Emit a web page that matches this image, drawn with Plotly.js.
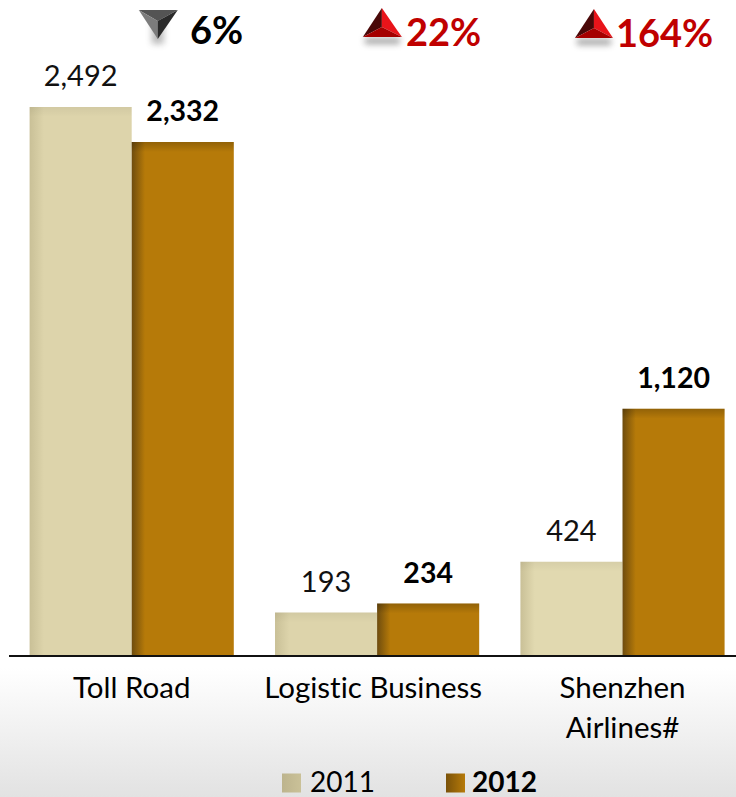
<!DOCTYPE html>
<html>
<head>
<meta charset="utf-8">
<script src="https://cdn.plot.ly/plotly-3.0.1.min.js"></script>
<style>
html,body{margin:0;padding:0;width:736px;height:797px;overflow:hidden;
background:linear-gradient(to bottom,#ffffff 0,#ffffff 668px,#e2e2e2 797px);}
text,tspan{font-variant-ligatures:none !important;font-feature-settings:"liga" 0 !important;}
</style>
</head>
<body>
<div id="chart" style="width:736px;height:797px"></div>
<script>
const categories = ["Toll Road", "Logistic Business", "Shenzhen<br>Airlines#"];
const values2011 = [2492, 193, 424];
const values2012 = [2332, 234, 1120];
const changes = ["6%", "22%", "164%"];
const FONT = "Lato, 'Open Sans', sans-serif";
const W = 736, H = 797, L = 9.3, B = 141.5;
const px = x => ((x - L) / (W - L)).toFixed(5);
const py = y => (1 - y / (H - B)).toFixed(5);
const poly = pts => pts.map((p, i) => (i ? 'L' : 'M') + px(p[0]) + ',' + py(p[1])).join(' ') + ' Z';
const facet = (pts, color) => ({type: 'path', xref: 'paper', yref: 'paper', path: poly(pts), fillcolor: color, line: {width: 0}, layer: 'above'});
const shadow = (x0, y0, x1, y1, op) => ({type: 'rect', xref: 'paper', yref: 'paper', x0: px(x0), x1: px(x1), y0: py(y0), y1: py(y1), fillcolor: '#555', opacity: op, line: {width: 0}, layer: 'above'});

function upMark(ax, ay, lx, rx, by) {
  const c = [ax, ay + 19];
  return [
    shadow(lx + 2, by + 1, rx - 2, by + 7, 0.55),
    facet([[ax, ay], [lx, by], c], '#4a0808'),
    facet([[ax, ay], [rx, by], c], '#e8141a'),
    facet([[lx, by], [rx, by], c], '#a50000')
  ];
}
const shapes = [
  shadow(152, 20, 164, 44, 0.4),
  facet([[139, 10], [178, 10], [158, 21]], '#545454'),
  facet([[139, 10], [158, 39], [158, 21]], '#7c7c7c'),
  facet([[178, 10], [158, 39], [158, 21]], '#2a2a2a'),
  ...upMark(382, 8, 363, 402, 37),
  ...upMark(594, 9, 575, 613, 38)
];
const pct = (i, x, y, color) => ({
  xref: 'paper', yref: 'paper', x: px(x), y: py(y), xanchor: 'center', yanchor: 'middle',
  text: '<b>' + changes[i] + '</b>', showarrow: false,
  font: {family: FONT, size: 38, color}
});

const traces = [
  {type: 'bar', name: '2011', x: categories, y: values2011, marker: {color: ['#DDD4AB', '#DDD4AB', '#E1D9B0'], line: {width: 0}},
   text: values2011, texttemplate: '%{y:,}', textposition: 'outside', cliponaxis: false, constraintext: 'none',
   textfont: {family: FONT, size: 29, color: '#111'}},
  {type: 'bar', name: '<b>2012</b>', x: categories, y: values2012, marker: {color: '#B67A09', line: {width: 0}},
   text: values2012, texttemplate: '<b>%{y:,}</b>', textposition: 'outside', cliponaxis: false, constraintext: 'none',
   textfont: {family: FONT, size: 28.5, color: '#000'}}
];
const layout = {
  width: W, height: H, margin: {l: L, r: 0, t: 0, b: B, pad: 0}, autosize: false,
  paper_bgcolor: 'rgba(0,0,0,0)', plot_bgcolor: 'rgba(0,0,0,0)',
  barmode: 'group', bargap: 0.168, bargroupgap: 0,
  font: {family: FONT, color: '#000'},
  xaxis: {type: 'category', range: [-0.5, 2.4625], showline: true, linecolor: '#111', linewidth: 2,
    showgrid: false, zeroline: false, ticks: 'outside', ticklen: 6, tickcolor: 'rgba(0,0,0,0)',
    tickfont: {family: FONT, size: 29.5, color: '#000'}, tickangle: 0, fixedrange: true},
  yaxis: {range: [0, 2978], visible: false, fixedrange: true},
  legend: {orientation: 'h', x: 0.37, xanchor: 'left', y: -0.2159, yanchor: 'bottom', traceorder: 'normal',
    font: {family: FONT, size: 28, color: '#000'}, bgcolor: 'rgba(0,0,0,0)', itemclick: false, itemdoubleclick: false,
    entrywidth: 130, entrywidthmode: 'pixels'},
  shapes,
  annotations: [pct(0, 217, 29, '#000'), pct(1, 443.5, 31, '#C00000'), pct(2, 665, 32, '#C00000')]
};
Plotly.newPlot('chart', traces, layout, {displayModeBar: false, responsive: false}).then(gd => {
  const NS = 'http://www.w3.org/2000/svg';
  const svg = gd.querySelector('.main-svg');
  const defs = svg.querySelector('defs');
  let uid = 0;
  const grad = (vertical, stops, userBox) => {
    const g = document.createElementNS(NS, 'linearGradient');
    const id = 'bg' + (uid++);
    g.setAttribute('id', id);
    if (userBox) {
      g.setAttribute('gradientUnits', 'userSpaceOnUse');
      g.setAttribute('x1', 0); g.setAttribute('x2', 0);
      g.setAttribute('y1', userBox[0]); g.setAttribute('y2', userBox[1]);
    }
    stops.forEach(s => {
      const st = document.createElementNS(NS, 'stop');
      st.setAttribute('offset', s[0]); st.setAttribute('stop-color', s[1]);
      if (s[2] !== undefined) st.setAttribute('stop-opacity', s[2]);
      g.appendChild(st);
    });
    defs.appendChild(g);
    return 'url(#' + id + ')';
  };
  gd.querySelectorAll('.barlayer .trace').forEach((tr, ti) => {
    tr.querySelectorAll('.point').forEach(pt => {
      const p = pt.querySelector('path');
      const base = p.style.fill;
      const left = ti === 0 ? '#C9C097' : '#6E4C0E';
      const frac = ti === 0 ? 0.14 : 0.13;
      p.style.fill = grad(false, [[0, left], [frac, base], [1, base]]);
      const b = p.getBBox();
      const top = p.cloneNode(true);
      top.style.fill = grad(false, [[0, '#000', ti === 0 ? 0.05 : 0.2], [1, '#000', 0]], [b.y, b.y + 10]);
      p.parentNode.insertBefore(top, p.nextSibling);
      const t = pt.querySelector('text');
      if (t) {
        const tf = t.getAttribute('transform') || '';
        t.setAttribute('transform', 'translate(0,-12) ' + tf);
      }
    });
  });
  gd.querySelectorAll('.xtick text tspan.line').forEach(ts => {
    if (ts.getAttribute('dy') && parseFloat(ts.getAttribute('dy')) !== 0) ts.setAttribute('dy', '40px');
  });
  gd.querySelectorAll('.xtick text').forEach((tk, i) => {
    if (i === 1) tk.setAttribute('transform', 'translate(-4,0) ' + (tk.getAttribute('transform') || ''));
  });
  // legend: swatch and label placement
  const screen = el => el.getBoundingClientRect();
  const swatchX = [282, 446], textX = [310, 472], midY = 783, textMid = 781;
  gd.querySelectorAll('.legend .traces').forEach((tr, i) => {
    const lp = tr.querySelector('.legendpoints path');
    if (lp) {
      lp.setAttribute('d', 'M-9.5,-9.5H9.5V9.5H-9.5Z');
      lp.style.fill = i === 0 ? grad(false, [[0, '#BDB48D'], [1, '#CAC198']]) : grad(false, [[0, '#7A5209'], [1, '#B67A09']]);
      const r = screen(lp);
      const g = tr.querySelector('.legendpoints');
      g.setAttribute('transform', 'translate(' + (swatchX[i] - r.left) + ',' + (midY - (r.top + r.bottom) / 2) + ') ' + (g.getAttribute('transform') || ''));
    }
    const t = tr.querySelector('text.legendtext');
    if (t) {
      const r = screen(t);
      t.setAttribute('transform', 'translate(' + (textX[i] - r.left) + ',' + (textMid - (r.top + r.bottom) / 2) + ') ' + (t.getAttribute('transform') || ''));
    }
  });
  gd.querySelectorAll('.shapelayer path').forEach(s => {
    if (s.style.opacity && parseFloat(s.style.opacity) < 1) s.style.filter = 'blur(3px)';
  });
});
</script>
</body>
</html>
